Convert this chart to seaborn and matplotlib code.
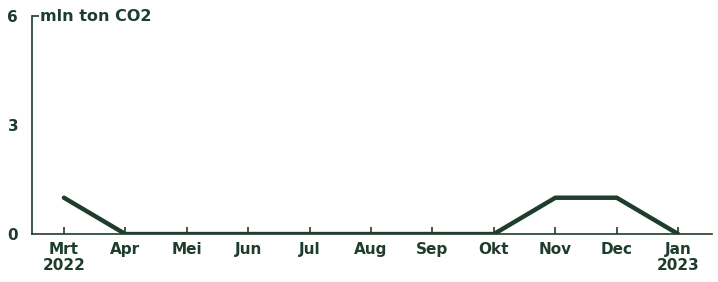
import matplotlib
matplotlib.use("Agg")
import pandas as pd
import seaborn as sns
import matplotlib.pyplot as plt

months = ["Mrt\n2022", "Apr", "Mei", "Jun", "Jul", "Aug", "Sep", "Okt", "Nov", "Dec", "Jan\n2023"]
values = [1, 0, 0, 0, 0, 0, 0, 0, 1, 1, 0]

green = "#1f3d2c"
fw = "bold"
fs = 11

sns.set_style("white")
plt.rcParams["font.family"] = ["DejaVu Sans"]

df = pd.DataFrame({"pos": range(len(months)), "value": values})

fig = plt.figure(figsize=(7.18, 2.82), dpi=100)
ax = fig.add_axes([0.0446, 0.170, 0.947, 0.773])

sns.lineplot(data=df, x="pos", y="value", color=green, linewidth=3.2, ax=ax, zorder=2)

ax.set_xlim(-0.52, 10.55)
ax.set_ylim(0, 6)
ax.set_xticks(range(len(months)))
ax.set_xticklabels(months, fontsize=fs, fontweight=fw, color=green, linespacing=1.05)
ax.set_yticks([0, 3, 6])
ax.set_yticklabels(["0", "3", "6"], fontsize=fs, fontweight=fw, color=green)
# keep the little top tick even though it sits on a major tick
ax.yaxis.remove_overlapping_locs = False
ax.set_yticks([6], minor=True)
ax.tick_params(axis="x", bottom=True, direction="in", length=5, width=1.2, color=green, pad=6)
ax.tick_params(axis="y", which="major", left=True, length=0, pad=10)
ax.tick_params(axis="y", which="minor", left=True, direction="in", length=5, width=1.2, color=green)
ax.set_axisbelow(False)
ax.set_xlabel("")
ax.set_ylabel("")

for s in ["top", "right"]:
    ax.spines[s].set_visible(False)
for s in ["left", "bottom"]:
    ax.spines[s].set_color(green)
    ax.spines[s].set_linewidth(1.2)

ax.text(0.012, 1.0, "mln ton CO2", transform=ax.transAxes, fontsize=fs + 0.5,
        fontweight=fw, color=green, va="center", ha="left")

fig.savefig("out.png", dpi=100)
